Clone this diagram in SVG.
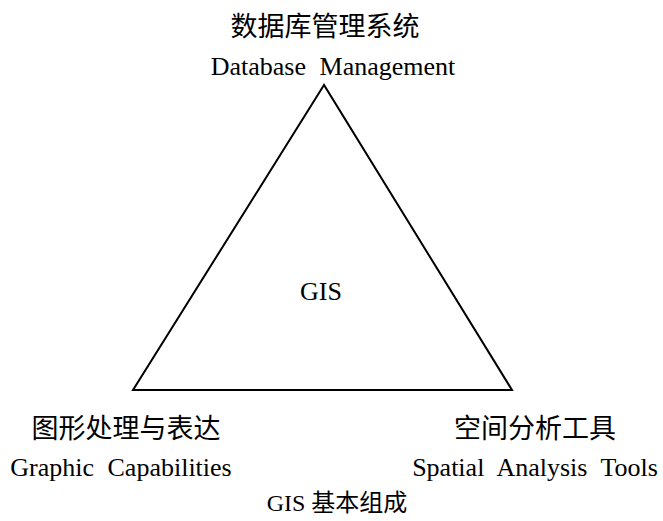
<svg xmlns="http://www.w3.org/2000/svg" width="663" height="521" viewBox="0 0 663 521">
<style>
.en{font-family:"Liberation Serif","Times New Roman",serif;font-size:26px;fill:#000;word-spacing:7px}
.zh{font-family:"Liberation Serif","Noto Sans CJK SC",serif;font-size:27px;fill:#000}
.tri{fill:none;stroke:#000;stroke-width:2}
</style>
<rect width="663" height="521" fill="#fff"/>
<g id="connectors">
<polygon class="tri" points="324,85 133,390 512,390"/>
</g>
<g id="node-db">
<text class="zh" x="325" y="36" text-anchor="middle">数据库管理系统</text>
<text class="en" x="333" y="75" text-anchor="middle">Database Management</text>
</g>
<g id="node-gis">
<text class="en" x="321" y="300" text-anchor="middle">GIS</text>
</g>
<g id="node-graphic">
<text class="zh" x="126" y="438" text-anchor="middle">图形处理与表达</text>
<text class="en" x="121" y="476" text-anchor="middle">Graphic Capabilities</text>
</g>
<g id="node-spatial">
<text class="zh" x="535" y="438" text-anchor="middle">空间分析工具</text>
<text class="en" x="535" y="476" text-anchor="middle">Spatial Analysis Tools</text>
</g>
<g id="caption">
<text class="zh" x="337" y="511" text-anchor="middle" style="font-size:24px">GIS 基本组成</text>
</g>
</svg>
